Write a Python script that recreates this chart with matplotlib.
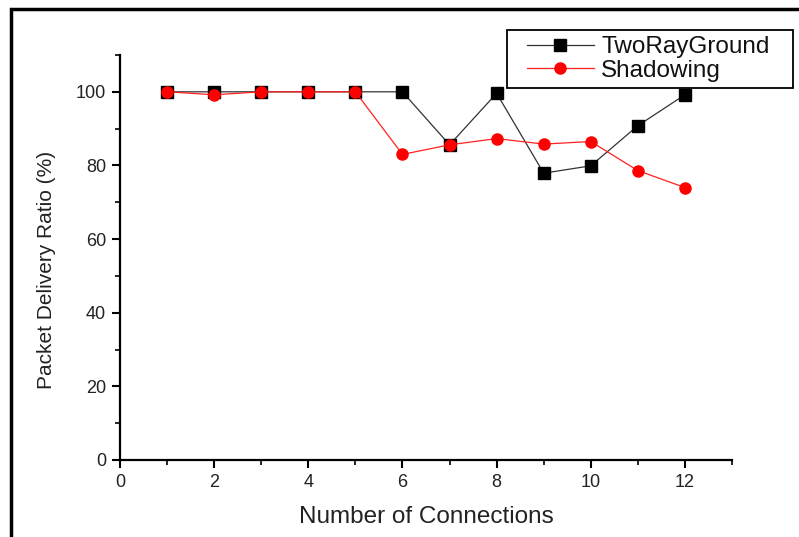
import matplotlib
matplotlib.use('Agg')
from matplotlib import pyplot as plt
from matplotlib.patches import Rectangle
from matplotlib.ticker import MultipleLocator

connections = [1, 2, 3, 4, 5, 6, 7, 8, 9, 10, 11, 12]
two_ray_ground = [100, 100, 100, 100, 100, 100, 85.6, 99.6, 77.9, 79.9, 90.8, 99.2]
shadowing = [100, 99.2, 100, 100, 100, 83.0, 85.6, 87.3, 85.8, 86.5, 78.6, 74.0]

plt.rcParams['font.family'] = ['Liberation Sans', 'DejaVu Sans']

W, H = 799, 537
fig = plt.figure(figsize=(W / 100, H / 100), dpi=100)
ax = fig.add_axes([120 / W, 77 / H, 612 / W, 405 / H])

# outer frame of the picture
fig.patches.append(Rectangle((11 / W, -0.05), 1.1, (537 - 9) / H + 0.05,
                             transform=fig.transFigure, fill=False,
                             edgecolor='black', linewidth=2.5))

l1, = ax.plot(connections, two_ray_ground, color='#333333', linewidth=0.9,
              marker='s', markersize=8, markerfacecolor='black',
              markeredgecolor='black', label='TwoRayGround', zorder=3)
l2, = ax.plot(connections, shadowing, color='#ff2020', linewidth=0.9,
              marker='o', markersize=8, markerfacecolor='#ff0000',
              markeredgecolor='#ff0000', label='Shadowing', zorder=4)

ax.set_xlim(0, 13)
ax.set_ylim(0, 110)
ax.xaxis.set_minor_locator(MultipleLocator(1))
ax.yaxis.set_minor_locator(MultipleLocator(10))
ax.set_xticks([0, 2, 4, 6, 8, 10, 12])
ax.set_yticks([0, 20, 40, 60, 80, 100])

for s in ['top', 'right']:
  ax.spines[s].set_visible(False)
for s in ['left', 'bottom']:
  ax.spines[s].set_linewidth(1.6)

ax.tick_params(which='major', direction='out', length=6, width=1.5,
               labelsize=13, colors='black', pad=4)
ax.tick_params(which='minor', direction='out', length=3.5, width=1.2)
for lbl in ax.get_xticklabels() + ax.get_yticklabels():
  lbl.set_color('#222222')

ax.set_xlabel('Number of Connections', fontsize=17.5, labelpad=11,
              color='#222222')
ax.set_ylabel('Packet Delivery Ratio (%)', fontsize=15, color='#222222')
ax.yaxis.set_label_coords(-0.105, 0.47)

# legend box drawn separately so its side padding can follow the reference
fig.patches.append(Rectangle((507 / W, 1 - 88 / H), 286 / W, 58 / H,
                             transform=fig.transFigure, fill=False,
                             edgecolor='black', linewidth=1.3, zorder=5))
leg = fig.legend(handles=[l1, l2], loc='center left',
                 bbox_to_anchor=(527 / W, 1 - 59 / H), fontsize=17.5,
                 frameon=False, borderpad=0, handlelength=2.75,
                 handletextpad=0.3, labelspacing=0.08, borderaxespad=0)
for t in leg.get_texts():
  t.set_color('#111111')

fig.savefig('out.png', dpi=100)
